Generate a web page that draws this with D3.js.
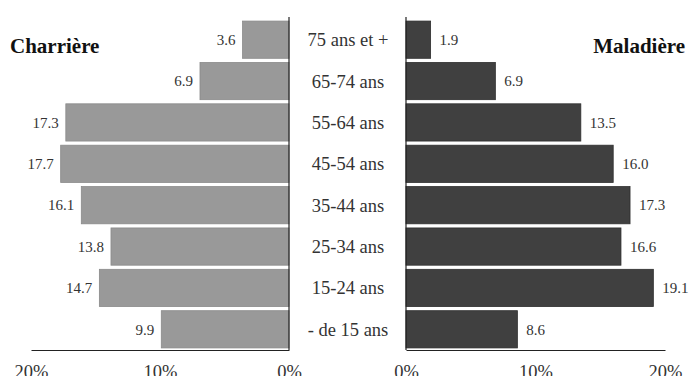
<!DOCTYPE html>
<html>
<head>
<meta charset="utf-8">
<script src="https://cdn.jsdelivr.net/npm/d3@7"></script>
<style>
  body { margin: 0; background: #fff; }
</style>
</head>
<body>
<svg id="pyramid"></svg>
<script>
var width = 689, height = 376;
var serif = "Liberation Serif";

// age groups, top to bottom
var ageGroups = ["75 ans et +", "65-74 ans", "55-64 ans", "45-54 ans", "35-44 ans", "25-34 ans", "15-24 ans", "- de 15 ans"];
var charriere = [3.6, 6.9, 17.3, 17.7, 16.1, 13.8, 14.7, 9.9];
var maladiere = [1.9, 6.9, 13.5, 16.0, 17.3, 16.6, 19.1, 8.6];
var tickValues = [0, 10, 20];

var svg = d3.select("#pyramid")
  .attr("width", width)
  .attr("height", height)
  .attr("font-family", serif);

var y = d3.scaleBand()
  .domain(ageGroups)
  .range([19, 350])
  .paddingInner(0.1)
  .paddingOuter(0.05);

var axisY = 350;

// Left side (Charrière)
var xLeft = d3.scaleLinear().domain([0, 20]).range([289, 31]);
// Right side (Maladière)
var xRight = d3.scaleLinear().domain([0, 20]).range([406, 665]);

var pct = function (d) { return d + "%"; };

function drawAxis(x) {
  var g = svg.append("g")
    .attr("transform", "translate(0," + axisY + ")")
    .call(d3.axisBottom(x).tickValues(tickValues).tickSize(0).tickPadding(15).tickFormat(pct));
  g.attr("font-family", serif).attr("font-size", 18.5);
  g.select(".domain").attr("stroke", "#222").attr("stroke-width", 1.2);
  g.selectAll("text")
    .attr("fill", "#333");
}
drawAxis(xLeft);
drawAxis(xRight);

// left bars
svg.append("g").selectAll("rect")
  .data(charriere)
  .join("rect")
  .attr("x", function (d) { return xLeft(d); })
  .attr("y", function (d, i) { return y(ageGroups[i]); })
  .attr("width", function (d) { return xLeft(0) - xLeft(d); })
  .attr("height", y.bandwidth())
  .attr("fill", "#999999")
  .attr("stroke", "#8a8a8a")
  .attr("stroke-width", 0.8);

svg.append("g").selectAll("text")
  .data(charriere)
  .join("text")
  .attr("x", function (d) { return xLeft(d) - 7; })
  .attr("y", function (d, i) { return y(ageGroups[i]) + y.bandwidth() / 2; })
  .attr("dy", "0.35em")
  .attr("text-anchor", "end")
  .attr("font-size", 15)
  .attr("fill", "#333")
  .text(function (d) { return d.toFixed(1); });

// right bars
svg.append("g").selectAll("rect")
  .data(maladiere)
  .join("rect")
  .attr("x", xRight(0))
  .attr("y", function (d, i) { return y(ageGroups[i]); })
  .attr("width", function (d) { return xRight(d) - xRight(0); })
  .attr("height", y.bandwidth())
  .attr("fill", "#404040")
  .attr("stroke", "#2e2e2e")
  .attr("stroke-width", 0.8);

svg.append("g").selectAll("text")
  .data(maladiere)
  .join("text")
  .attr("x", function (d) { return xRight(d) + 9; })
  .attr("y", function (d, i) { return y(ageGroups[i]) + y.bandwidth() / 2; })
  .attr("dy", "0.35em")
  .attr("font-size", 15)
  .attr("fill", "#333")
  .text(function (d) { return d.toFixed(1); });

// vertical zero lines
[xLeft(0), xRight(0)].forEach(function (x0) {
  svg.append("line")
    .attr("x1", x0).attr("x2", x0)
    .attr("y1", 17).attr("y2", axisY)
    .attr("stroke", "#222")
    .attr("stroke-width", 1.2);
});

// age labels in the middle
svg.append("g").selectAll("text")
  .data(ageGroups)
  .join("text")
  .attr("x", 348)
  .attr("y", function (d) { return y(d) + y.bandwidth() / 2; })
  .attr("dy", "0.35em")
  .attr("text-anchor", "middle")
  .attr("font-size", 18.5)
  .attr("fill", "#333")
  .text(function (d) { return d; });

// titles
svg.append("text")
  .attr("x", 10).attr("y", 53)
  .attr("font-size", 21)
  .attr("font-weight", "bold")
  .attr("fill", "#111")
  .text("Charrière");

svg.append("text")
  .attr("x", 685).attr("y", 53)
  .attr("text-anchor", "end")
  .attr("font-size", 21)
  .attr("font-weight", "bold")
  .attr("fill", "#111")
  .text("Maladière");
</script>
</body>
</html>
